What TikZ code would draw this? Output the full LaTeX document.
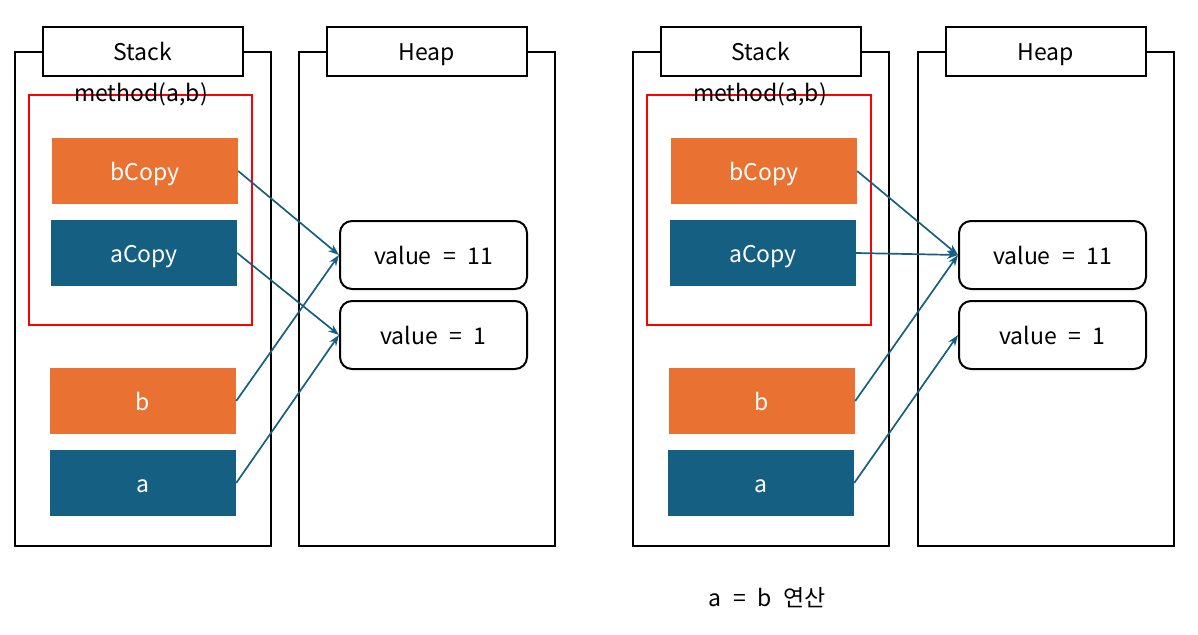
\documentclass[tikz,border=0pt]{standalone}
\usepackage{fontspec}
\setmainfont{Noto Sans CJK KR}
\usetikzlibrary{arrows.meta}
\definecolor{varorange}{RGB}{233,113,50}
\definecolor{varblue}{RGB}{21,96,130}
\tikzset{
  area/.style={draw,line width=2pt},
  areatitle/.style={draw,fill=white,line width=2pt,minimum width=200pt,minimum height=49pt},
  frame/.style={draw=red,line width=2pt},
  var/.style={minimum width=186pt,minimum height=66pt,text=white},
  obj/.style={draw,rounded corners=12pt,line width=2pt,minimum width=187pt,minimum height=68pt},
  ref/.style={draw=varblue,line width=1.7pt,-{Stealth[length=11pt,width=8pt]}}
}
\begin{document}
\begin{tikzpicture}[x=1pt,y=-1pt,font=\fontsize{23}{27}\selectfont,
    every node/.style={text height=21pt,text depth=2.3pt}]
  \useasboundingbox (0,0) rectangle (1198,634);
  % before
  \draw[area] (15,52) rectangle (271,546);
  \draw[area] (299,52) rectangle (555,546);
  \node[areatitle] (stack1) at (143,51.5) {Stack};
  \node[areatitle] (heap1) at (427,51.5) {Heap};
  \draw[frame] (29,95) rectangle (252,325);
  \node (method1) at (141,92) {method(a,b)};
  \node[var,fill=varorange] (bcopy1) at (145,171) {bCopy};
  \node[var,fill=varblue] (acopy1) at (144,253) {aCopy};
  \node[var,fill=varorange] (b1) at (143,401) {b};
  \node[var,fill=varblue] (a1) at (143,483) {a};
  \node[obj] (eleven1) at (433.5,255) {value\enspace=\enspace11};
  \node[obj] (one1) at (433.5,335) {value\enspace=\enspace1};
  \draw[ref] (bcopy1.east) -- (eleven1.west);
  \draw[ref] (acopy1.east) -- (one1.west);
  \draw[ref] (b1.east) -- (eleven1.west);
  \draw[ref] (a1.east) -- (one1.west);
  % after a = b
  \draw[area] (633,52) rectangle (889,546);
  \draw[area] (918,52) rectangle (1174,546);
  \node[areatitle] (stack2) at (761,51.5) {Stack};
  \node[areatitle] (heap2) at (1046,51.5) {Heap};
  \draw[frame] (647,95) rectangle (871,325);
  \node (method2) at (760,92) {method(a,b)};
  \node[var,fill=varorange] (bcopy2) at (764,171) {bCopy};
  \node[var,fill=varblue] (acopy2) at (763,253) {aCopy};
  \node[var,fill=varorange] (b2) at (762,401) {b};
  \node[var,fill=varblue] (a2) at (761,483) {a};
  \node[obj] (eleven2) at (1052.5,255) {value\enspace=\enspace11};
  \node[obj] (one2) at (1052.5,335) {value\enspace=\enspace1};
  \draw[ref] (bcopy2.east) -- (eleven2.west);
  \draw[ref] (acopy2.east) -- (eleven2.west);
  \draw[ref] (b2.east) -- (eleven2.west);
  \draw[ref] (a2.east) -- (one2.west);
  \node (caption) at (767,597) {a\enspace=\enspace b\enspace 연산};
\end{tikzpicture}
\end{document}
